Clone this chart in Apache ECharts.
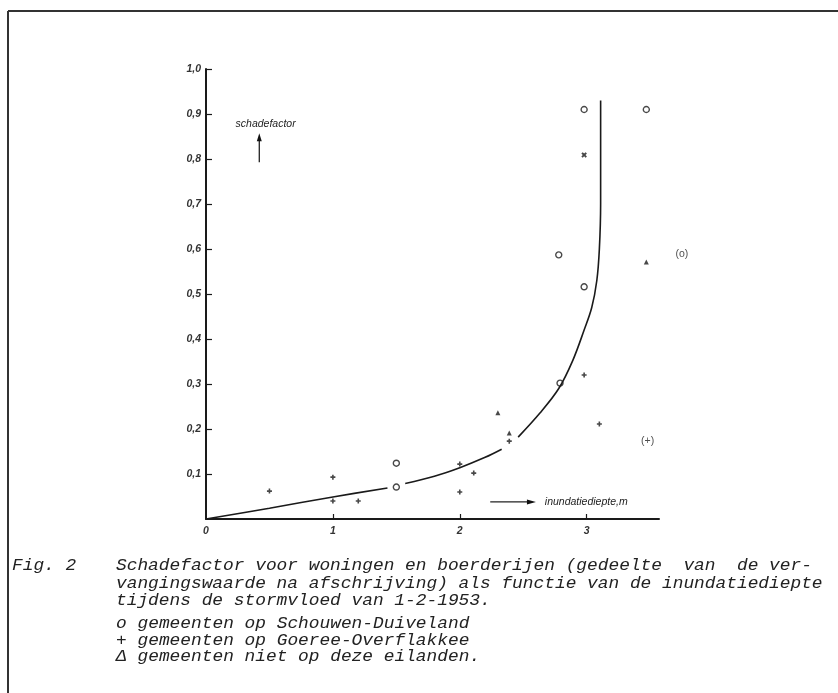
<!DOCTYPE html>
<html>
<head>
<meta charset="utf-8">
<script src="https://cdn.jsdelivr.net/npm/echarts@6/dist/echarts.min.js"></script>
<style>
  html, body { margin: 0; padding: 0; background: #fff; }
  #c { width: 838px; height: 693px; }
</style>
</head>
<body>
<div id="c"></div>
<script>
// Schadefactor (fraction of replacement value) versus inundation depth (m), storm flood 1-2-1953

// gemeenten op Schouwen-Duiveland  [depth m, damage factor]
const schouwen = [[2.98, 0.91], [3.47, 0.91], [2.78, 0.587], [2.98, 0.516], [2.79, 0.302], [1.50, 0.071], [1.50, 0.124]];
// gemeenten op Goeree-Overflakkee
const goeree = [[0.50, 0.062], [1.00, 0.093], [1.00, 0.040], [1.20, 0.040], [2.00, 0.122], [2.11, 0.102], [2.00, 0.060], [2.39, 0.173], [2.98, 0.320], [3.10, 0.211]];
// gemeenten niet op deze eilanden
const overige = [[2.30, 0.236], [2.39, 0.191], [3.47, 0.571]];
// single cross-marked municipality
const kruis = [[2.98, 0.809]];

// hand-drawn damage curve, broken where it passes marks
const curve1 = [[0, 0], [0.5, 0.024], [1.0, 0.049], [1.43, 0.069]];
const curve2 = [[1.57, 0.079], [1.8, 0.095], [2.0, 0.114], [2.2, 0.137], [2.33, 0.155]];
const curve3 = [[2.46, 0.182], [2.63, 0.235], [2.78, 0.29], [2.89, 0.352], [2.98, 0.42], [3.04, 0.47], [3.08, 0.53], [3.10, 0.60], [3.11, 0.70], [3.11, 0.93]];

// tick labels
const xTickValues = [0, 1, 2, 3];
const xTickLabels = ['0', '1', '2', '3'];
const yTickValues = [0.1, 0.2, 0.3, 0.4, 0.5, 0.6, 0.7, 0.8, 0.9, 1.0];
const yTickLabels = ['0,1', '0,2', '0,3', '0,4', '0,5', '0,6', '0,7', '0,8', '0,9', '1,0'];

// bracketed notes beside the right-hand marks: [depth, factor, text]
const notes = [[3.75, 0.589, '(o)'], [3.48, 0.173, '(+)']];

// typed caption (first line justified with doubled spaces)
const caption = [
  'Schadefactor voor woningen en boerderijen (gedeelte  van  de ver-',
  'vangingswaarde na afschrijving) als functie van de inundatiediepte',
  'tijdens de stormvloed van 1-2-1953.'
];
const legendSymbols = ['o', '+', '\u0394'];
const legendTexts = [
  'gemeenten op Schouwen-Duiveland',
  'gemeenten op Goeree-Overflakkee',
  'gemeenten niet op deze eilanden.'
];

const INK = '#1a1a1a';
const PLUS = 'path://M3.4,0H6.6V3.4H10V6.6H6.6V10H3.4V6.6H0V3.4H3.4Z';
const labelFont = { fontStyle: 'italic', fontWeight: 'bold', fontSize: 10.5, color: '#333', fontFamily: '"Liberation Sans", Arial, sans-serif' };

const chart = echarts.init(document.getElementById('c'), null, { renderer: 'canvas' });

const curveSeries = [curve1, curve2, curve3].map(d => ({
  type: 'line', data: d, symbol: 'none', smooth: 0.35, clip: false,
  lineStyle: { color: INK, width: 1.6 }, silent: true
}));

chart.setOption({
  animation: false,
  backgroundColor: '#fff',
  grid: { left: 206, top: 69, width: 453, height: 450 },
  xAxis: {
    type: 'value', min: 0, max: 3.57,
    axisLine: { lineStyle: { color: INK, width: 2 } },
    axisTick: { customValues: [1, 2, 3], inside: true, length: 5, lineStyle: { color: INK, width: 1.2 } },
    axisLabel: Object.assign({ customValues: xTickValues, margin: 7,
      formatter: v => xTickLabels[xTickValues.indexOf(Math.round(v))] }, labelFont),
    splitLine: { show: false }
  },
  yAxis: {
    type: 'value', min: 0, max: 1,
    axisLine: { show: true, lineStyle: { color: INK, width: 2 } },
    axisTick: { show: true, customValues: yTickValues, inside: true, length: 6, lineStyle: { color: INK, width: 1.2 } },
    axisLabel: Object.assign({ customValues: yTickValues, margin: 5,
      formatter: v => yTickLabels[Math.round(v * 10) - 1] }, labelFont),
    splitLine: { show: false }
  },
  series: curveSeries.concat([
    { name: 'Schouwen-Duiveland', type: 'scatter', data: schouwen, symbol: 'circle', symbolSize: 6, clip: false,
      itemStyle: { color: '#fff', borderColor: INK, borderWidth: 1.4 } },
    { name: 'Goeree-Overflakkee', type: 'scatter', data: goeree, symbol: PLUS, symbolSize: 5, clip: false,
      itemStyle: { color: INK } },
    { name: 'overige', type: 'scatter', data: overige, symbol: 'triangle', symbolSize: 5, clip: false,
      itemStyle: { color: INK } },
    { name: 'kruis', type: 'scatter', data: kruis, symbol: PLUS, symbolRotate: 45, symbolSize: 6, clip: false,
      itemStyle: { color: INK } },
    { name: 'notes', type: 'scatter', data: notes.map(n => [n[0], n[1]]), symbol: 'circle', symbolSize: 1, clip: false, silent: true,
      itemStyle: { color: 'rgba(0,0,0,0)' },
      label: { show: true, position: 'inside', formatter: p => notes[p.dataIndex][2],
        fontSize: 10.5, color: '#222', fontFamily: '"Liberation Sans", Arial, sans-serif' } }
  ])
});

// annotations placed in data space: axis names with arrows
const px = p => chart.convertToPixel({ gridIndex: 0 }, p);
const yArrowBase = px([0.42, 0.793]);
const yArrowTip = px([0.42, 0.857]);
const yName = px([0.47, 0.878]);
const xArrowBase = px([2.24, 0.038]);
const xArrowTip = px([2.60, 0.038]);
const xName = px([2.67, 0.038]);

const nameStyle = { fontStyle: 'italic', fontSize: 10.5, fill: '#222', fontFamily: '"Liberation Sans", Arial, sans-serif', textVerticalAlign: 'middle' };

const graphics = [
  // frame lines
  { type: 'line', shape: { x1: 8, y1: 11, x2: 838, y2: 11 }, style: { stroke: '#333', lineWidth: 2 } },
  { type: 'line', shape: { x1: 8, y1: 11, x2: 8, y2: 693 }, style: { stroke: '#333', lineWidth: 2 } },
  // vertical axis name + arrow
  { type: 'text', x: yName[0], y: yName[1], style: Object.assign({ text: 'schadefactor', textAlign: 'center' }, nameStyle) },
  { type: 'line', shape: { x1: yArrowBase[0], y1: yArrowBase[1], x2: yArrowTip[0], y2: yArrowTip[1] + 6 }, style: { stroke: '#222', lineWidth: 1.3 } },
  { type: 'polygon', shape: { points: [[yArrowTip[0], yArrowTip[1]], [yArrowTip[0] - 2.5, yArrowTip[1] + 8], [yArrowTip[0] + 2.5, yArrowTip[1] + 8]] }, style: { fill: '#111' } },
  // horizontal axis name + arrow
  { type: 'line', shape: { x1: xArrowBase[0], y1: xArrowBase[1], x2: xArrowTip[0] - 6, y2: xArrowTip[1] }, style: { stroke: '#222', lineWidth: 1.3 } },
  { type: 'polygon', shape: { points: [[xArrowTip[0], xArrowTip[1]], [xArrowTip[0] - 9, xArrowTip[1] - 2.5], [xArrowTip[0] - 9, xArrowTip[1] + 2.5]] }, style: { fill: '#111' } },
  { type: 'text', x: xName[0], y: xName[1], style: Object.assign({ text: 'inundatiediepte,m', textAlign: 'left' }, nameStyle) }
];

// figure caption in typewriter style (short glyphs, wide typewriter pitch)
const capFont = { fontStyle: 'italic', fontSize: 16, fill: '#222', fontFamily: '"Liberation Mono", "DejaVu Sans Mono", monospace', textVerticalAlign: 'middle' };
const capScaleX = 1.115;
const capText = (x, y, t) => ({ type: 'text', x: x, y: y, scaleX: capScaleX, style: Object.assign({ text: t }, capFont) });
graphics.push(capText(12, 566, 'Fig. 2'));
caption.forEach((t, i) => graphics.push(capText(116, 566 + i * 17.5, t)));
legendTexts.forEach((t, i) => {
  graphics.push(capText(116, 624 + i * 16.5, legendSymbols[i]));
  graphics.push(capText(137.5, 624 + i * 16.5, t));
});

chart.setOption({ graphic: graphics });
</script>
</body>
</html>
